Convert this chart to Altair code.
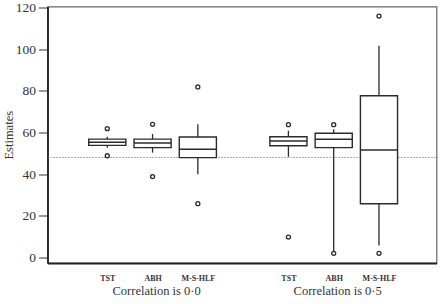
import altair as alt
import pandas as pd

# Box positions on the horizontal axis (two groups of three estimators)
positions = [1, 2, 3, 5, 6, 7]
methods = ["TST", "ABH", "M-S-HLF", "TST", "ABH", "M-S-HLF"]

# Box-plot summaries
q1 = [53.8, 52.7, 47.9, 53.6, 52.7, 25.8]
median = [55.3, 54.9, 51.9, 55.9, 56.7, 51.6]
q3 = [56.8, 56.8, 57.8, 57.9, 59.6, 77.6]
whisker_lo = [52.7, 50.3, 39.9, 48.3, 2.5, 5.7]
whisker_hi = [57.9, 59.2, 63.9, 60.8, 61.5, 101.6]

# Outlying estimates
outlier_pos = [1, 1, 2, 2, 3, 3, 5, 5, 6, 6, 7, 7]
outlier_val = [61.8, 48.8, 63.9, 38.8, 81.8, 25.8, 63.7, 9.8, 63.7, 2.0, 115.8, 2.0]

# Group captions
group_centers = [2, 6]
group_titles = ["Correlation is 0·0", "Correlation is 0·5"]

true_value = 48

HALF = 0.41
W, H = 389, 256.5
SERIF = "Liberation Serif"
INK = "#2b2b2b"

boxes = pd.DataFrame({
    "pos": positions, "method": methods, "q1": q1, "median": median,
    "q3": q3, "lo": whisker_lo, "hi": whisker_hi,
})
outliers = pd.DataFrame({"pos": outlier_pos, "value": outlier_val})
groups = pd.DataFrame({"pos": group_centers, "title": group_titles})
ref = pd.DataFrame({"value": [true_value]})

label_expr = ""
for p, m in zip(positions, methods):
    label_expr += f"datum.value == {p} ? '{m}' : "
label_expr += "''"

x_scale = alt.Scale(domain=[-0.32, 8.27], nice=False, zero=False)
y_scale = alt.Scale(domain=[-2.64, 120.4], nice=False, zero=False)

x_axis = alt.Axis(
    values=positions, labelExpr=label_expr, title=None, grid=False,
    ticks=False, domain=True, domainColor="#222", domainWidth=1.8,
    labelFont=SERIF, labelFontSize=8, labelFontWeight="bold",
    labelColor="#333", labelPadding=11, labelFlush=False,
)
y_axis = alt.Axis(
    values=[0, 20, 40, 60, 80, 100, 120], title="Estimates", grid=False,
    tickSize=9, tickColor="#333", domain=True, domainColor="#222",
    domainWidth=1.8, labelFont=SERIF, labelFontSize=13.5, labelColor="#333",
    labelPadding=3, titleFont=SERIF, titleFontSize=12.5,
    titleFontWeight="normal", titleColor="#333", titlePadding=0,
)

base = alt.Chart(boxes).transform_calculate(
    left=f"datum.pos - {HALF}", right=f"datum.pos + {HALF}"
)

ref_line = alt.Chart(ref).mark_rule(
    color="#555", strokeDash=[1, 2], strokeWidth=1
).encode(
    y=alt.Y("value:Q", scale=y_scale, axis=y_axis),
    x=alt.value(0), x2=alt.value(W),
)

whisker_low = base.mark_rule(color=INK, strokeWidth=1.3).encode(
    x=alt.X("pos:Q", scale=x_scale, axis=x_axis),
    y=alt.Y("lo:Q", scale=y_scale), y2="q1:Q",
)
whisker_high = base.mark_rule(color=INK, strokeWidth=1.3).encode(
    x=alt.X("pos:Q", scale=x_scale), y=alt.Y("q3:Q", scale=y_scale), y2="hi:Q",
)
box = base.mark_rect(fill="white", stroke=INK, strokeWidth=1.4).encode(
    x=alt.X("left:Q", scale=x_scale), x2="right:Q",
    y=alt.Y("q1:Q", scale=y_scale), y2="q3:Q",
)
mid = base.mark_rule(color=INK, strokeWidth=1.4).encode(
    x=alt.X("left:Q", scale=x_scale), x2="right:Q",
    y=alt.Y("median:Q", scale=y_scale),
)
points = alt.Chart(outliers).mark_point(
    shape="circle", filled=False, color=INK, size=16, strokeWidth=1.3, opacity=1
).encode(
    x=alt.X("pos:Q", scale=x_scale), y=alt.Y("value:Q", scale=y_scale),
)
captions = alt.Chart(groups).mark_text(
    font=SERIF, fontSize=12.5, color="#333", baseline="alphabetic", dx=4
).encode(
    x=alt.X("pos:Q", scale=x_scale), y=alt.value(H + 31.5), text="title:N",
)

chart = alt.layer(
    ref_line, whisker_low, whisker_high, box, mid, points, captions
).properties(
    width=W, height=H,
    autosize=alt.AutoSizeParams(type="none"),
    padding={"left": 47.5, "top": 6.5, "right": 5.5, "bottom": 41},
    background="white",
).configure_view(
    stroke="#666", strokeWidth=1.2
)

chart.save("out.html", embed_options={"renderer": "svg", "actions": False})
